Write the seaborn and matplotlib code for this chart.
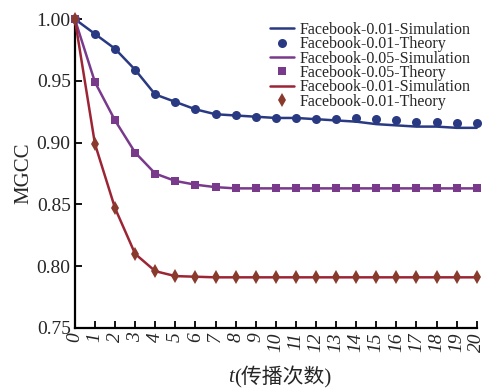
import matplotlib
matplotlib.use("Agg")
import matplotlib.pyplot as plt
from matplotlib.lines import Line2D
import seaborn as sns
import pandas as pd

# Propagation rounds
t = list(range(21))

# Facebook, p = 0.01 (blue)
blue_sim = [1.000, 0.988, 0.976, 0.959, 0.939, 0.933, 0.927, 0.923, 0.922, 0.921,
            0.920, 0.920, 0.919, 0.918, 0.917, 0.915, 0.914, 0.913, 0.913, 0.912, 0.912]
blue_theory = [1.000, 0.988, 0.976, 0.959, 0.939, 0.933, 0.927, 0.923, 0.922, 0.921,
               0.920, 0.920, 0.919, 0.919, 0.920, 0.919, 0.918, 0.917, 0.917, 0.916, 0.916]

# Facebook, p = 0.05 (purple)
purple_sim = [1.000, 0.949, 0.918, 0.892, 0.875, 0.869, 0.866, 0.864, 0.863, 0.863,
              0.863, 0.863, 0.863, 0.863, 0.863, 0.863, 0.863, 0.863, 0.863, 0.863, 0.863]
purple_theory = [1.000, 0.949, 0.918, 0.892, 0.875, 0.869, 0.866, 0.864, 0.863, 0.863,
                 0.863, 0.863, 0.863, 0.863, 0.863, 0.863, 0.863, 0.863, 0.863, 0.863, 0.863]

# Facebook, third setting (red)
red_sim = [1.000, 0.899, 0.847, 0.810, 0.796, 0.792, 0.7915, 0.791, 0.791, 0.791,
           0.791, 0.791, 0.791, 0.791, 0.791, 0.791, 0.791, 0.791, 0.791, 0.791, 0.791]
red_theory = [1.000, 0.899, 0.847, 0.810, 0.796, 0.792, 0.7915, 0.791, 0.791, 0.791,
              0.791, 0.791, 0.791, 0.791, 0.791, 0.791, 0.791, 0.791, 0.791, 0.791, 0.791]

labels = ["Facebook-0.01-Simulation", "Facebook-0.01-Theory",
          "Facebook-0.05-Simulation", "Facebook-0.05-Theory",
          "Facebook-0.01-Simulation", "Facebook-0.01-Theory"]

y_ticks = [0.75, 0.80, 0.85, 0.90, 0.95, 1.00]

sns.set_theme(style="ticks")
plt.rcParams["font.family"] = ["Liberation Serif", "Noto Sans CJK SC"]

fig = plt.figure(figsize=(4.86, 3.90), dpi=100)
ax = fig.add_axes([0.154, 0.159, 0.827, 0.792])

series = [
    (blue_sim, blue_theory, "#2a3a82", "#2a3a82", "o", 6.5),
    (purple_sim, purple_theory, "#7a3a8c", "#7a3a8c", "s", 5.5),
    (red_sim, red_theory, "#9c2535", "#8a3a2c", "d", 7.5),
]

handles = []
for sim, theo, lc, mc, mk, ms in series:
    df = pd.DataFrame({"t": t, "sim": sim, "theo": theo})
    sns.lineplot(data=df, x="t", y="sim", ax=ax, color=lc, linewidth=1.8,
                 clip_on=False, zorder=3)
    sns.lineplot(data=df, x="t", y="theo", ax=ax, color=mc, linestyle="",
                 marker=mk, markersize=ms, markeredgewidth=0, clip_on=False, zorder=4)
    handles.append(Line2D([], [], color=lc, linewidth=1.8))
    handles.append(Line2D([], [], color=mc, linestyle="", marker=mk,
                          markersize=ms, markeredgewidth=0))

ax.set_xlim(0, 20)
ax.set_ylim(0.75, 1.00)
ax.set_xticks(t)
ax.set_xticklabels([str(v) for v in t], rotation=90, fontstyle="italic", fontsize=14)
ax.set_yticks(y_ticks)
ax.set_yticklabels([f"{v:.2f}" for v in y_ticks], fontsize=14)
ax.tick_params(direction="in", length=5, width=1.3, color="black", pad=3)

for side in ("top", "right"):
    ax.spines[side].set_visible(False)
for side in ("left", "bottom"):
    ax.spines[side].set_linewidth(1.6)
    ax.spines[side].set_color("black")

ax.set_ylabel("MGCC", fontsize=15, labelpad=2)
ax.set_xlabel("")

# x-axis title: italic t followed by the Chinese caption
fig.text(234 / 486, 1 - 377 / 390, "t", fontsize=15, fontstyle="italic",
         ha="right", va="center", family="Liberation Serif")
fig.text(234 / 486, 1 - 377 / 390, "(传播次数)", fontsize=15,
         ha="left", va="center")

ax.legend(handles, labels, loc="upper right", bbox_to_anchor=(1.0, 1.012),
          frameon=False, fontsize=11.5, labelspacing=-0.1, handlelength=1.5,
          handletextpad=0.35, borderaxespad=0.0)

fig.savefig("out.png", dpi=100)
